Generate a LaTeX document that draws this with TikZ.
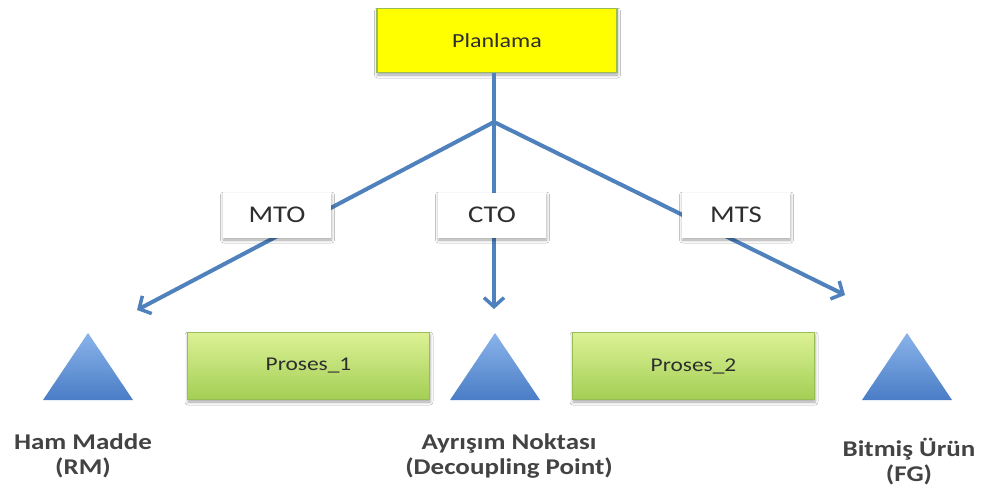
\documentclass[tikz,border=0pt]{standalone}
\usepackage{fontspec}
\setmainfont[FakeStretch=1.2]{Carlito}
\usetikzlibrary{arrows.meta,shadows.blur}
\definecolor{flowblue}{HTML}{4F81BD}
\definecolor{planyellow}{HTML}{FFFF00}
\definecolor{planedge}{HTML}{9BBB59}
\definecolor{greentop}{HTML}{DCF195}
\definecolor{greenbot}{HTML}{A3CF55}
\definecolor{greenedge}{HTML}{98BD55}
\definecolor{tritop}{HTML}{8AB3EA}
\definecolor{tribot}{HTML}{4A7DC6}
\definecolor{inkgray}{HTML}{2E2E2E}
\tikzset{
  softshadow/.style={blur shadow={shadow xshift=0.5pt,shadow yshift=-2.5pt,shadow blur radius=3pt,shadow opacity=35}},
  planbox/.style={draw=planedge,line width=1.6pt,fill=planyellow,minimum width=240pt,minimum height=64pt,
    font=\fontsize{20}{24}\selectfont,text=inkgray,softshadow},
  tagbox/.style={fill=white,minimum width=108pt,minimum height=45pt,
    font=\fontsize{24}{29}\selectfont,text=inkgray,softshadow},
  procbox/.style={draw=greenedge,line width=1pt,top color=greentop,bottom color=greenbot,
    minimum width=242pt,minimum height=67pt,font=\fontsize{19.5}{23}\selectfont,text=inkgray,softshadow},
  stockmark/.style={top color=tritop,bottom color=tribot,draw=none},
  caption/.style={align=center,font=\bfseries\fontsize{22.5}{25}\selectfont,text=inkgray!90},
  flow/.style={draw=flowblue,line width=4pt},
  flowarrow/.style={flow,-{Straight Barb[length=9pt,width=20pt,line width=3.5pt]}}
}
\begin{document}
\begin{tikzpicture}[x=1pt,y=-1pt]
\useasboundingbox[fill=white] (0,0) rectangle (988,493);

% stock points (triangles)
\path[stockmark] (43,400) -- (88,333) -- (133,400) -- cycle;
\path[stockmark] (450,400) -- (495,333) -- (540,400) -- cycle;
\path[stockmark] (862,400) -- (907,333) -- (952,400) -- cycle;
\coordinate (rmtip) at (137,310);
\coordinate (dptip) at (494,309);
\coordinate (fgtip) at (845,295);

% planning box and the branch point below it
\node[planbox] (plan) at (497,40.5) {Planlama};
\coordinate (hub) at (494,122);

\draw[flow] (plan.south -| hub) -- (hub);
\draw[flowarrow] (hub) -- (rmtip);
\draw[flowarrow] (hub) -- (dptip);
\draw[flowarrow] (hub) -- (fgtip);

% strategy labels sitting on the branches
\node[tagbox] (mto) at (277,215) {MTO};
\node[tagbox] (cto) at (492,215) {CTO};
\node[tagbox] (mts) at (736,215) {MTS};

% processes between the stock points
\node[procbox] (p1) at (308.5,366) {Proses\_1};
\node[procbox] (p2) at (693.5,366) {Proses\_2};

% captions under the stock points
\node[caption] (rm) at (83,456) {Ham Madde\\(RM)};
\node[caption] (dp) at (509,456) {Ayrışım Noktası\\(Decoupling Point)};
\node[caption] (fg) at (909,462) {Bitmiş Ürün\\(FG)};
\end{tikzpicture}
\end{document}
